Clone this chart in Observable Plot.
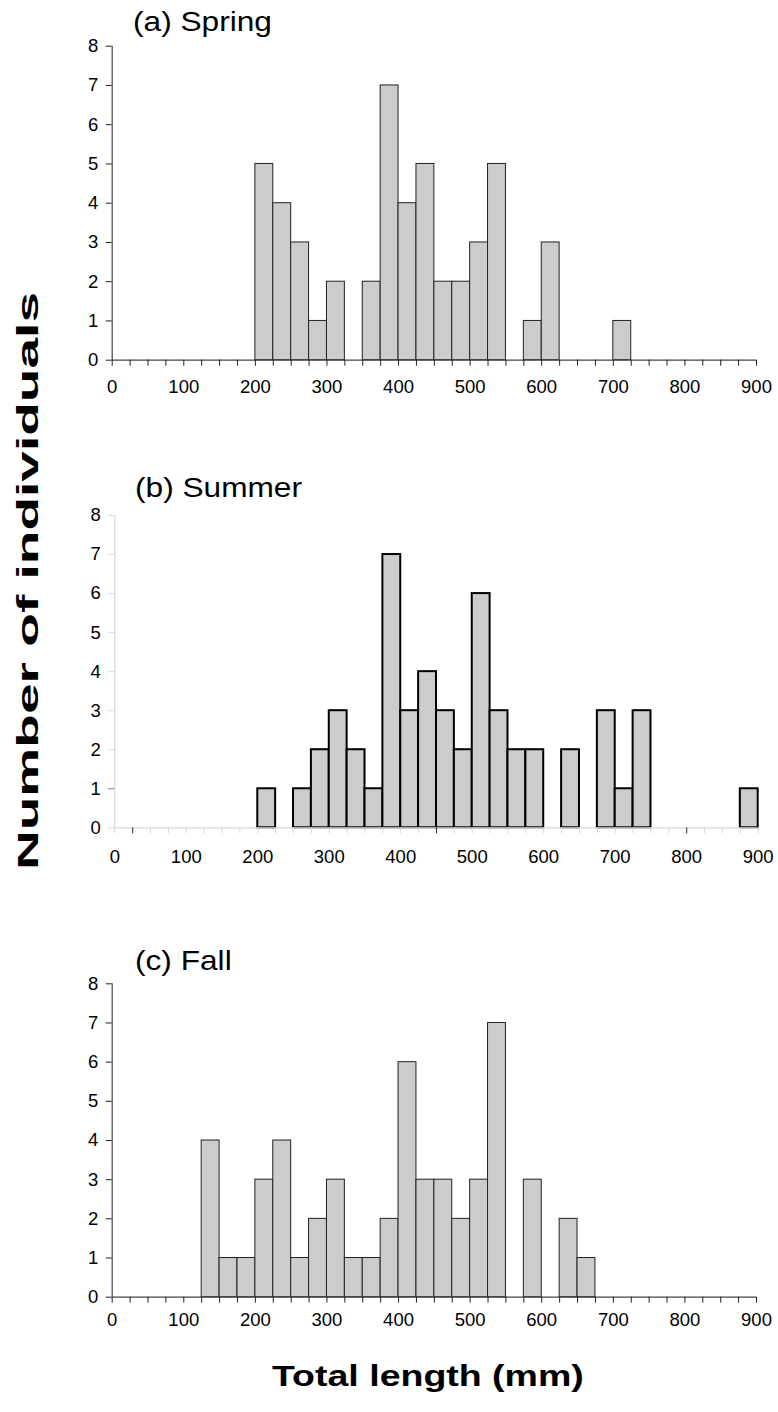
<!DOCTYPE html>
<html><head><meta charset="utf-8">
<script src="https://cdn.jsdelivr.net/npm/d3@7"></script>
<script src="https://cdn.jsdelivr.net/npm/@observablehq/plot@0.6"></script>
<style>
body{margin:0;background:#fff;}
#root{position:relative;width:778px;height:1412px;font-family:Arial,"Liberation Sans",sans-serif;overflow:hidden;background:#fff;}
.panel{position:absolute;left:0;}
.panel text{font-size:18.5px !important;font-family:Arial,"Liberation Sans",sans-serif;}
.title{position:absolute;font-size:28px;line-height:28px;white-space:nowrap;transform-origin:0 0;transform:scaleX(1.13);color:#000;}
.xlab{position:absolute;font-size:30px;line-height:30px;font-weight:bold;white-space:nowrap;transform-origin:0 0;color:#000;}
.ylab{position:absolute;font-size:30px;line-height:30px;font-weight:bold;white-space:nowrap;color:#000;}
</style></head><body><div id="root"></div>
<script>
// bin width 25 mm, values = number of individuals per bin (bin start in mm)
const springBins   = [200,225,250,275,300,350,375,400,425,450,475,500,525,575,600,700];
const springCounts = [5,4,3,1,2,2,7,4,5,2,2,3,5,1,3,1];

const summerBins   = [200,250,275,300,325,350,375,400,425,450,475,500,525,550,575,625,675,700,725,875];
const summerCounts = [1,1,2,3,2,1,7,3,4,3,2,6,3,2,2,2,3,1,3,1];

const fallBins   = [125,150,175,200,225,250,275,300,325,350,375,400,425,450,475,500,525,575,625,650];
const fallCounts = [4,1,1,3,4,1,2,3,1,1,2,6,3,3,2,3,7,3,2,1];

const titles = ["(a) Spring", "(b) Summer", "(c) Fall"];
const xTickValues = d3.range(0, 901, 25);
const xLabelValues = [0,100,200,300,400,500,600,700,800,900];
const yTickValues = [0,1,2,3,4,5,6,7,8];
const summerDarkX = [25, 450, 800];
const summerDarkY = [1];
const binWidth = 25;

const root = document.getElementById("root");

function makePanel(bins, counts, cfg) {
  const data = bins.map((b, i) => ({x1: b, x2: b + binWidth, count: counts[i]}));
  const marks = [
    Plot.rectY(data, {x1: "x1", x2: "x2", y: "count", fill: "#cccccc", stroke: cfg.barStroke, strokeWidth: cfg.barStrokeWidth}),
    Plot.ruleY([0], {stroke: cfg.axisColor, strokeWidth: 1.2}),
    Plot.ruleX([0], {stroke: cfg.axisColor, strokeWidth: 1.2}),
    Plot.axisX({ticks: xTickValues, tickFormat: d => xLabelValues.includes(d) ? String(d) : "", tickSize: 6, tickPadding: cfg.xPad, stroke: cfg.tickColor, fill: "#000", label: null}),
    Plot.axisY({ticks: yTickValues, tickSize: 6, tickPadding: 8, stroke: cfg.tickColor, fill: "#000", label: null})
  ];
  if (cfg.darkX) marks.push(Plot.axisX({ticks: cfg.darkX, tickFormat: () => "", tickSize: 6, stroke: "#333", label: null}));
  if (cfg.darkY) marks.push(Plot.axisY({ticks: cfg.darkY, tickFormat: () => "", tickSize: 6, stroke: "#888", label: null}));
  const svg = Plot.plot({
    width: 778, height: 400,
    marginLeft: cfg.ml, marginRight: cfg.mr, marginTop: cfg.mt, marginBottom: cfg.mb,
    x: {domain: [0, 900]},
    y: {domain: [0, 8]},
    style: {fontFamily: 'Arial, "Liberation Sans", sans-serif', fontSize: "18.5px", color: "#000", background: "transparent", overflow: "visible"},
    marks
  });
  svg.classList.add("panel");
  svg.style.top = cfg.top + "px";
  root.appendChild(svg);
  const t = document.createElement("div");
  t.className = "title";
  t.textContent = cfg.title;
  t.style.left = cfg.tl + "px";
  t.style.top = cfg.tt + "px";
  root.appendChild(t);
}

makePanel(springBins, springCounts, {top: 0, ml: 111.7, mr: 22, mt: 45.7, mb: 40.3, barStroke: "#222", barStrokeWidth: 1, axisColor: "#444", tickColor: "#222", xPad: 14, title: titles[0], tl: 133, tt: 8.3});
makePanel(summerBins, summerCounts, {top: 470, ml: 114.3, mr: 20.3, mt: 45, mb: 42.7, barStroke: "#000", barStrokeWidth: 2, axisColor: "#d9d9d9", tickColor: "#d9d9d9", xPad: 16, darkX: summerDarkX, darkY: summerDarkY, title: titles[1], tl: 135, tt: 473.7});
makePanel(fallBins, fallCounts, {top: 940, ml: 111.7, mr: 22, mt: 43.3, mb: 43.3, barStroke: "#222", barStrokeWidth: 1, axisColor: "#444", tickColor: "#222", xPad: 10, title: titles[2], tl: 135, tt: 947.3});

const xl = document.createElement("div");
xl.className = "xlab";
xl.textContent = "Total length (mm)";
xl.style.left = "272px";
xl.style.top = "1361px";
xl.style.transform = "scaleX(1.25)";
root.appendChild(xl);

const yl = document.createElement("div");
yl.className = "ylab";
yl.textContent = "Number of individuals";
root.appendChild(yl);
const w = yl.getBoundingClientRect().width;
const sx = 578 / w;
yl.style.left = (28 - w / 2) + "px";
yl.style.top = (581 - 15) + "px";
yl.style.transform = `rotate(-90deg) scaleX(${sx})`;
yl.style.transformOrigin = "50% 50%";
</script>
</body></html>
